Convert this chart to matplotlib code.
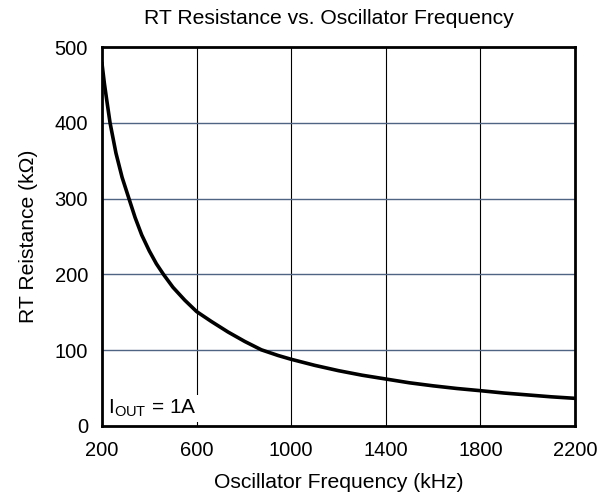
import numpy as np
import matplotlib
matplotlib.use('Agg')
import matplotlib.pyplot as plt

plt.rcParams['font.family'] = ['Liberation Sans', 'DejaVu Sans']
plt.rcParams['mathtext.fontset'] = 'custom'
plt.rcParams['mathtext.rm'] = 'Liberation Sans'

# RT resistor value vs. switching frequency
freq_khz = [200, 210, 220, 234, 259, 285, 315, 340, 368, 400, 430, 460, 500, 550,
            600, 662, 733, 804, 874, 945, 1000, 1100, 1200, 1300, 1400, 1500,
            1600, 1700, 1800, 1900, 2000, 2100, 2200]
rt_kohm = [478, 452, 430, 400, 360, 328, 299, 275, 252, 231, 214, 200, 183, 166,
           151, 138, 124, 111.5, 100.5, 93, 88, 80, 73, 67, 62, 57,
           53, 49.5, 46.6, 43.5, 41, 38.5, 36.5]

xticks = [200, 600, 1000, 1400, 1800, 2200]
yticks = [0, 100, 200, 300, 400, 500]

fig = plt.figure(figsize=(6.09, 4.99), dpi=100)
ax = fig.add_axes([0.1675, 0.1463, 0.7765, 0.7595])

ax.plot(freq_khz, rt_kohm, color='black', lw=2.6, zorder=3,
        solid_joinstyle='round')

ax.set_xlim(200, 2200)
ax.set_ylim(0, 500)
ax.set_xticks(xticks)
ax.set_yticks(yticks)
ax.tick_params(length=0, labelsize=14.5)
ax.tick_params(axis='x', pad=11)
ax.tick_params(axis='y', pad=10)

for x in xticks[1:-1]:
    ax.axvline(x, color='black', lw=0.8, zorder=1)
for y in yticks[1:-1]:
    ax.axhline(y, color='#4f6483', lw=1.0, zorder=1)

for s in ax.spines.values():
    s.set_linewidth(2)
    s.set_color('black')
    s.set_zorder(4)

fig.text(329 / 609, 1 - 18 / 499, 'RT Resistance vs. Oscillator Frequency',
         fontsize=15.2, ha='center', va='center')
ax.set_xlabel('Oscillator Frequency (kHz)', fontsize=15.2, labelpad=9)
ax.set_ylabel('RT Reistance (k\u03a9)', fontsize=15.2, labelpad=12)

ax.text(224, 16, r'I$_{\mathrm{OUT}}$ = 1A', fontsize=15, zorder=2,
        bbox=dict(facecolor='white', edgecolor='none', pad=2))

fig.savefig('out.png', dpi=100)
